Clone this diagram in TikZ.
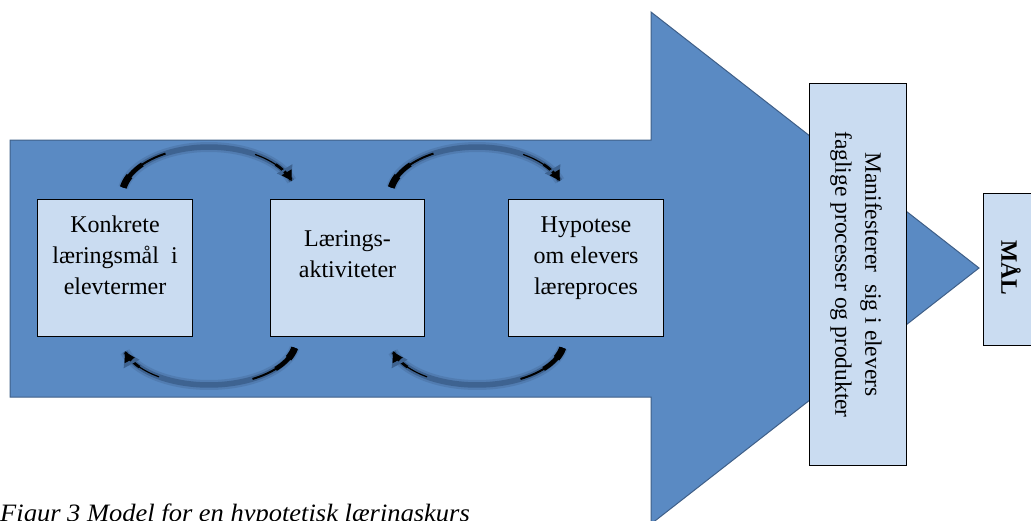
\documentclass[tikz,border=0pt]{standalone}
\usepackage{fontspec}
\usepackage{graphicx}
\setmainfont{Liberation Serif}
\usetikzlibrary{arrows.meta,calc}
\definecolor{arrowblue}{HTML}{5A8AC3}
\definecolor{arrowline}{HTML}{3F5F88}
\definecolor{boxfill}{HTML}{CADCF1}
\definecolor{band}{HTML}{3E6391}
\definecolor{bandsoft}{HTML}{4B74A6}
\newcommand{\boxlines}[1]{\begin{tabular}[t]{@{}c@{}}#1\end{tabular}}
\newcommand{\curvedarrow}[6]{%
  \pgfmathsetmacro\cad{#5+14}%
  \pgfmathsetmacro\cae{#5+30}%
  \pgfmathsetmacro\caf{#5+50}%
  \pgfmathsetmacro\cag{#6-40}%
  \pgfmathsetmacro\cai{#6-22}%
  \pgfmathsetmacro\cah{#6-12}%
  \draw[bandsoft, line width=10pt, opacity=0.6] plot[smooth, samples=60, domain=#5:#6] ({#1+#3*cos(\x)},{#2+#4*sin(\x)});
  \draw[band, line width=5.5pt] plot[smooth, samples=60, domain=#5:#6] ({#1+#3*cos(\x)},{#2+#4*sin(\x)});
  \draw[black, line width=7pt] plot[smooth, samples=20, domain=#5:\cad] ({#1+#3*cos(\x)},{#2+#4*sin(\x)});
  \draw[black, line width=4.5pt] plot[smooth, samples=20, domain=#5:\cae] ({#1+#3*cos(\x)},{#2+#4*sin(\x)});
  \draw[black, line width=2pt] plot[smooth, samples=20, domain=#5:\caf] ({#1+#3*cos(\x)},{#2+#4*sin(\x)});
  \draw[black, line width=1.2pt] plot[smooth, samples=20, domain=\cag:#6] ({#1+#3*cos(\x)},{#2+#4*sin(\x)});
  \draw[black, line width=2.8pt] plot[smooth, samples=20, domain=\cai:\cah] ({#1+#3*cos(\x)},{#2+#4*sin(\x)});
  \draw[band, line width=4pt, -{Triangle[length=14pt,width=17pt]}] plot[smooth, samples=10, domain=\cah:#6] ({#1+#3*cos(\x)},{#2+#4*sin(\x)});
  \draw[black, line width=3pt, -{Triangle[length=10pt,width=11pt]}] plot[smooth, samples=10, domain=\cah:#6] ({#1+#3*cos(\x)},{#2+#4*sin(\x)});
}
\begin{document}
\begin{tikzpicture}[x=1pt,y=-1pt,
  lbox/.style={draw=black, fill=boxfill, line width=1.1pt, inner sep=0pt},
  btext/.style={inner sep=0pt, font=\fontsize{24}{31}\selectfont},
  bigarrow/.style={fill=arrowblue, draw=arrowline, line width=1pt}]
\useasboundingbox (0,0) rectangle (1031,520);
% big arrow
\draw[bigarrow] (10,140) -- (651,140) -- (651,12) -- (979,268) -- (651,524) -- (651,397) -- (10,397) -- cycle;
% boxes
\node[lbox, anchor=north west, minimum width=155pt, minimum height=137pt] (b1) at (37,199) {};
\node[lbox, anchor=north west, minimum width=154pt, minimum height=137pt] (b2) at (270,199) {};
\node[lbox, anchor=north west, minimum width=155pt, minimum height=137pt] (b3) at (508,199) {};
\node[btext, anchor=base] (t1) at ($(b1.north)+(0,33)$) {\boxlines{Konkrete\\læringsmål\ \ i\\elevtermer}};
\node[btext, anchor=base] (t2) at ($(b2.north)+(0,47)$) {\boxlines{Lærings-\\aktiviteter}};
\node[btext, anchor=base] (t3) at ($(b3.north)+(0,33)$) {\boxlines{Hypotese\\om elevers\\læreproces}};
% curved arrows
\curvedarrow{209}{196}{87}{49}{190}{342}
\curvedarrow{477}{196}{87}{49}{190}{342}
\curvedarrow{209}{340}{87}{45}{10}{165}
\curvedarrow{477}{340}{87}{45}{10}{165}
% manifest box
\node[lbox, anchor=north west, minimum width=97pt, minimum height=382pt] (mb) at (809,83) {};
\node[rotate=-90, align=center, inner sep=0pt, font=\fontsize{23.5}{30}\selectfont] (mt) at ($(mb.center)+(-2,0)$) {Manifesterer\ \ sig i elevers\\faglige processer og produkter};
% goal box
\node[lbox, anchor=north west, minimum width=64pt, minimum height=152pt] (gb) at (983,193) {};
\node[rotate=-90, inner sep=0pt, font=\bfseries\fontsize{23.5}{26}\selectfont] (gt) at (1011,268) {MÅL};
% caption
\node[anchor=base west, inner sep=0pt, font=\itshape\fontsize{25}{30}\selectfont] (cap) at (0,521) {\scalebox{1.06}[1]{Figur 3 Model for en hypotetisk læringskurs}};
\end{tikzpicture}
\end{document}
